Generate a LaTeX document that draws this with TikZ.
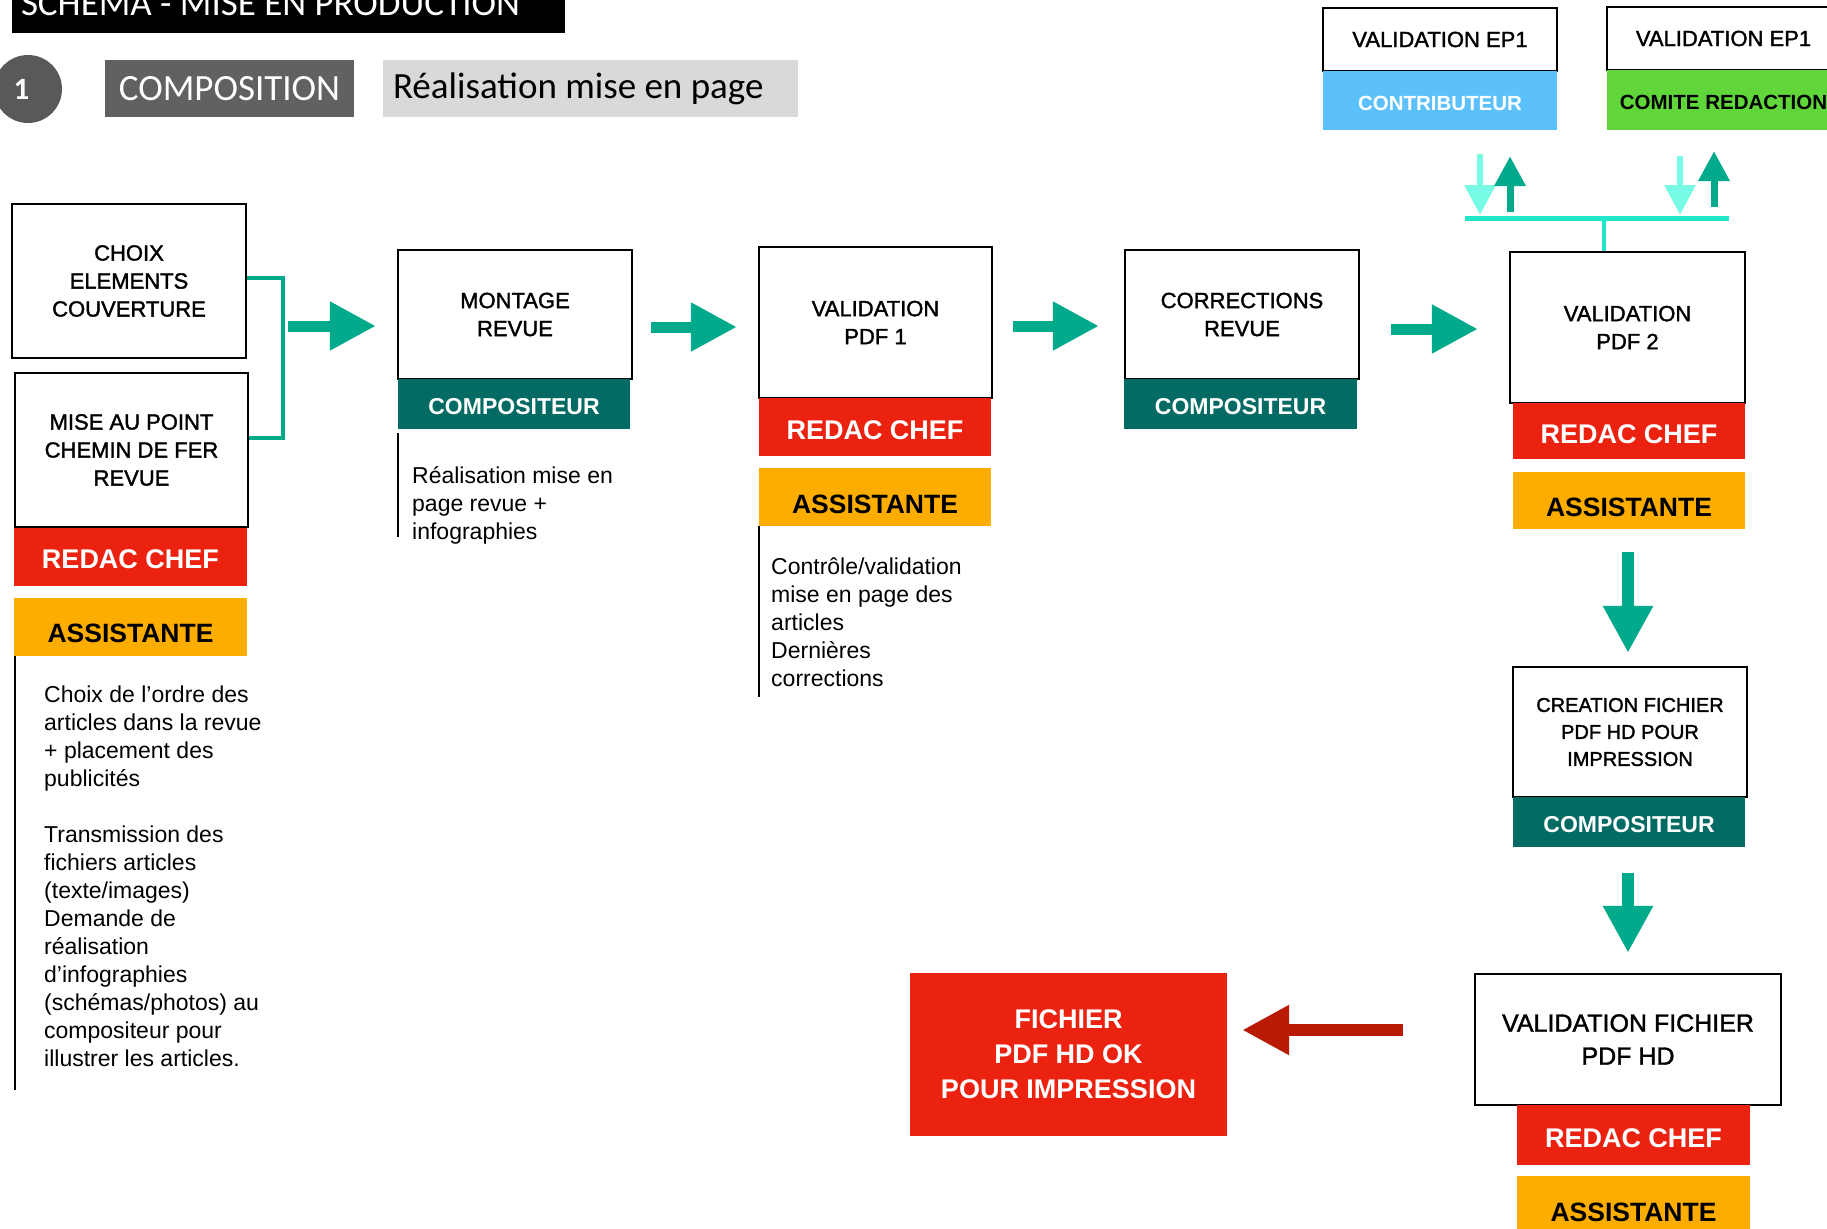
\documentclass[tikz,border=0pt]{standalone}
\usepackage{fontspec}
\setmainfont{Liberation Sans}
\newfontfamily\slidefont{Carlito}
\newfontfamily\boxfont[FakeBold=1.6]{Liberation Sans}
\usepackage{xcolor}
\definecolor{redac}{HTML}{EC2210}
\definecolor{assist}{HTML}{FDAD00}
\definecolor{compo}{HTML}{036B63}
\definecolor{contrib}{HTML}{5CC0FB}
\definecolor{comite}{HTML}{60D63A}
\definecolor{flowteal}{HTML}{00AA8A}
\definecolor{paleaqua}{HTML}{78FBE4}
\definecolor{hubaqua}{HTML}{22E6C8}
\definecolor{darkred}{HTML}{B81A04}
\definecolor{phasegray}{HTML}{616161}
\definecolor{notegray}{HTML}{D9D9D9}
\definecolor{dotgray}{HTML}{595959}
\usepackage{tikz}
\usetikzlibrary{arrows.meta, positioning}
\tikzset{
    headbar/.style = {
      fill = black,
      text = white,
      font = \slidefont\fontsize{37}{40}\selectfont,
      minimum height = 59pt,
      minimum width = 553pt,
      inner sep = 0pt
    },
    stepdot/.style = {
      circle,
      fill = dotgray,
      text = white,
      minimum size = 68pt,
      inner sep = 0pt,
      font = \slidefont\bfseries\fontsize{31}{33}\selectfont
    },
    phase/.style = {
      fill = phasegray,
      text = white,
      minimum width = 249pt,
      minimum height = 57pt,
      inner sep = 0pt,
      font = \slidefont\fontsize{37}{40}\selectfont
    },
    phasenote/.style = {
      fill = notegray,
      minimum width = 415pt,
      minimum height = 57pt,
      inner sep = 0pt,
      font = \slidefont\fontsize{37}{40}\selectfont
    },
    stagebox/.style = {
      draw = black,
      line width = 2.2pt,
      fill = white,
      minimum width = 234pt,
      inner sep = 0pt,
      align = center,
      font = \boxfont\fontsize{22}{28}\selectfont
    },
    rolebar/.style = {
      minimum width = 233pt,
      inner sep = 0pt,
      text depth = 0pt
    },
    redacbar/.style = {
      rolebar,
      fill = redac,
      text = white,
      minimum height = 58pt,
      text height = 24pt,
      font = \bfseries\fontsize{27}{30}\selectfont
    },
    assistbar/.style = {
      rolebar,
      fill = assist,
      minimum height = 58pt,
      text height = 32pt,
      font = \bfseries\fontsize{26.5}{30}\selectfont
    },
    compobar/.style = {
      rolebar,
      fill = compo,
      text = white,
      minimum height = 50pt,
      text height = 20.5pt,
      font = \bfseries\fontsize{23}{26}\selectfont
    },
    epbar/.style = {
      rolebar,
      minimum height = 59pt,
      text height = 19.5pt,
      font = \bfseries\fontsize{20.5}{24}\selectfont
    },
    note/.style = {
      anchor = north west,
      inner sep = 0pt,
      align = left,
      font = \fontsize{23}{28}\selectfont
    },
    final/.style = {
      fill = redac,
      text = white,
      minimum width = 317pt,
      minimum height = 163pt,
      align = center,
      font = \bfseries\fontsize{27}{35}\selectfont
    },
    flow/.style = {
      flowteal,
      line width = 11pt,
      -{Triangle[length=46pt, width=46pt]}
    },
    flowdown/.style = {
      flow,
      line width = 12.5pt,
      -{Triangle[length=47pt, width=47pt]}
    },
    backflow/.style = {
      darkred,
      line width = 11.5pt,
      -{Triangle[length=47pt, width=47pt]}
    },
    bracket/.style = {
      flowteal,
      line width = 3.5pt
    },
    hubline/.style = {
      hubaqua,
      line width = 5pt
    },
    sendarrow/.style = {
      paleaqua,
      line width = 6pt,
      -{Triangle[length=30pt, width=30pt]}
    },
    backarrow/.style = {
      flowteal,
      line width = 7pt,
      -{Triangle[length=30pt, width=30pt]}
    },
    rule/.style = {
      black,
      line width = 2pt
    },
}

\begin{document}
\begin{tikzpicture}[x=1pt, y=-1pt]
        \useasboundingbox (0,0) rectangle (1827,1228);
        \clip (0,0) rectangle (1827,1228);

        \node[headbar] (HEAD) at (288.5,3.5) {\makebox[535pt][l]{SCHEMA - MISE EN PRODUCTION}};
        \node[stepdot] (STEPNO) at (28,89) {\hspace*{-13pt}1};
        \node[phase] (PHASE) at (229.5,88.5) {COMPOSITION};
        \node[phasenote] (PHASENOTE) at (590.5,88.5) {\makebox[395pt][l]{Réalisation mise en page}};

        % stages
        \node[stagebox, minimum height=154pt] (CHOIX) at (129,281) {CHOIX\\ELEMENTS\\COUVERTURE};
        \node[stagebox, minimum height=154pt, minimum width=233pt] (MISE) at (131.5,450) {MISE AU POINT\\CHEMIN DE FER\\REVUE};
        \node[redacbar] (REDAC1) at (130.5,556.5) {REDAC CHEF};
        \node[assistbar] (ASSIST1) at (130.5,626.5) {ASSISTANTE};

        \node[stagebox, minimum height=129pt] (MONTAGE) at (515,314.5) {MONTAGE\\REVUE};
        \node[compobar, minimum width=232pt] (COMPO1) at (514,404) {COMPOSITEUR};

        \node[stagebox, minimum height=151pt, minimum width=233pt] (VALID1) at (875.5,322.5) {VALIDATION\\PDF 1};
        \node[redacbar, minimum width=232pt] (REDAC2) at (875,427) {REDAC CHEF};
        \node[assistbar, minimum width=232pt] (ASSIST2) at (875,497) {ASSISTANTE};

        \node[stagebox, minimum height=129pt] (CORR) at (1242,314.5) {CORRECTIONS\\REVUE};
        \node[compobar] (COMPO2) at (1240.5,404) {COMPOSITEUR};

        \node[stagebox, minimum height=151pt, minimum width=235pt] (VALID2) at (1627.5,327.5) {VALIDATION\\PDF 2};
        \node[redacbar, minimum width=232pt, minimum height=56pt] (REDAC3) at (1629,431) {REDAC CHEF};
        \node[assistbar, minimum width=232pt, minimum height=57pt] (ASSIST3) at (1629,500.5) {ASSISTANTE};

        \node[stagebox, minimum height=130pt, font=\boxfont\fontsize{20}{27}\selectfont] (CREATION) at (1630,732) {CREATION FICHIER\\PDF HD POUR\\IMPRESSION};
        \node[compobar, minimum width=232pt] (COMPO3) at (1629,822) {COMPOSITEUR};

        \node[stagebox, minimum height=131pt, minimum width=306pt, font=\boxfont\fontsize{25}{33}\selectfont] (VALIDHD) at (1628,1039.5) {VALIDATION FICHIER\\PDF HD};
        \node[redacbar, minimum height=60pt] (REDAC4) at (1633.5,1135) {REDAC CHEF};
        \node[assistbar, minimum height=59pt] (ASSIST4) at (1633.5,1205.5) {ASSISTANTE};

        \node[final] (FINAL) at (1068.5,1054.5) {FICHIER\\PDF HD OK\\POUR IMPRESSION};

        \node[stagebox, minimum height=63pt] (EPA) at (1440,39.5) {VALIDATION EP1};
        \node[epbar, minimum width=234pt, fill=contrib, text=white] (CONTRIB) at (1440,100.5) {CONTRIBUTEUR};
        \node[stagebox, minimum height=63pt, minimum width=233pt] (EPB) at (1723.5,38.5) {VALIDATION EP1};
        \node[epbar, fill=comite, minimum height=60pt] (COMITE) at (1723.5,100) {COMITE REDACTION};

        % notes
        \node[note] (NOTE1) at (44,686) {Choix de l’ordre des\\articles dans la revue\\+ placement des\\publicités\\[28pt]Transmission des\\fichiers articles\\(texte/images)\\Demande de\\réalisation\\d’infographies\\(schémas/photos) au\\compositeur pour\\illustrer les articles.};
        \node[note] (NOTE2) at (412,466) {Réalisation mise en\\page revue +\\infographies};
        \node[note] (NOTE3) at (771,558) {Contrôle/validation\\mise en page des\\articles\\Dernières\\corrections};

        \draw[rule] ([xshift=1pt]ASSIST1.south west) -- ++(0,434);
        \draw[rule] ([yshift=-4pt]COMPO1.south west) -- ++(0,104);
        \draw[rule] (ASSIST2.south west) -- ++(0,171);

        % flow
        \coordinate (JOIN) at (283,326);
        \draw[bracket] (CHOIX.east |- 0,278) -| (JOIN) |- (MISE.east |- 0,438);
        \draw[flow, shorten <=5pt, shorten >=21pt] (JOIN) -- (MONTAGE.west |- JOIN);
        \draw[flow, shorten <=18pt, shorten >=21pt] (MONTAGE.east |- 0,327) -- (VALID1.west |- 0,327);
        \draw[flow, shorten <=20pt, shorten >=25pt] (VALID1.east |- 0,326) -- (CORR.west |- 0,326);
        \draw[flow, shorten <=31pt, shorten >=31pt] (CORR.east |- 0,329) -- (VALID2.west |- 0,329);
        \draw[flowdown, shorten <=23pt, shorten >=13pt] (ASSIST3.south -| 1628,0) -- (CREATION.north -| 1628,0);
        \draw[flowdown, shorten <=26pt, shorten >=20pt] (COMPO3.south -| 1628,0) -- (VALIDHD.north -| 1628,0);
        \draw[backflow, shorten <=71pt, shorten >=15pt] (VALIDHD.west |- 0,1030) -- (FINAL.east |- 0,1030);

        % validation EP1
        \coordinate (HUB) at (1604,218);
        \draw[hubline] ([xshift=-139pt]HUB) -- ([xshift=125pt]HUB);
        \draw[hubline, line width=4pt] (HUB) -- (HUB |- VALID2.north);
        \draw[sendarrow, shorten <=24pt, shorten >=3pt] (CONTRIB.south -| 1480,0) -- (HUB -| 1480,0);
        \draw[backarrow, shorten <=6pt, shorten >=26pt] (HUB -| 1510,0) -- (CONTRIB.south -| 1510,0);
        \draw[sendarrow, shorten <=26pt, shorten >=3pt] (COMITE.south -| 1680,0) -- (HUB -| 1680,0);
        \draw[backarrow, shorten <=11pt, shorten >=21pt] (HUB -| 1714,0) -- (COMITE.south -| 1714,0);
\end{tikzpicture}
\end{document}
